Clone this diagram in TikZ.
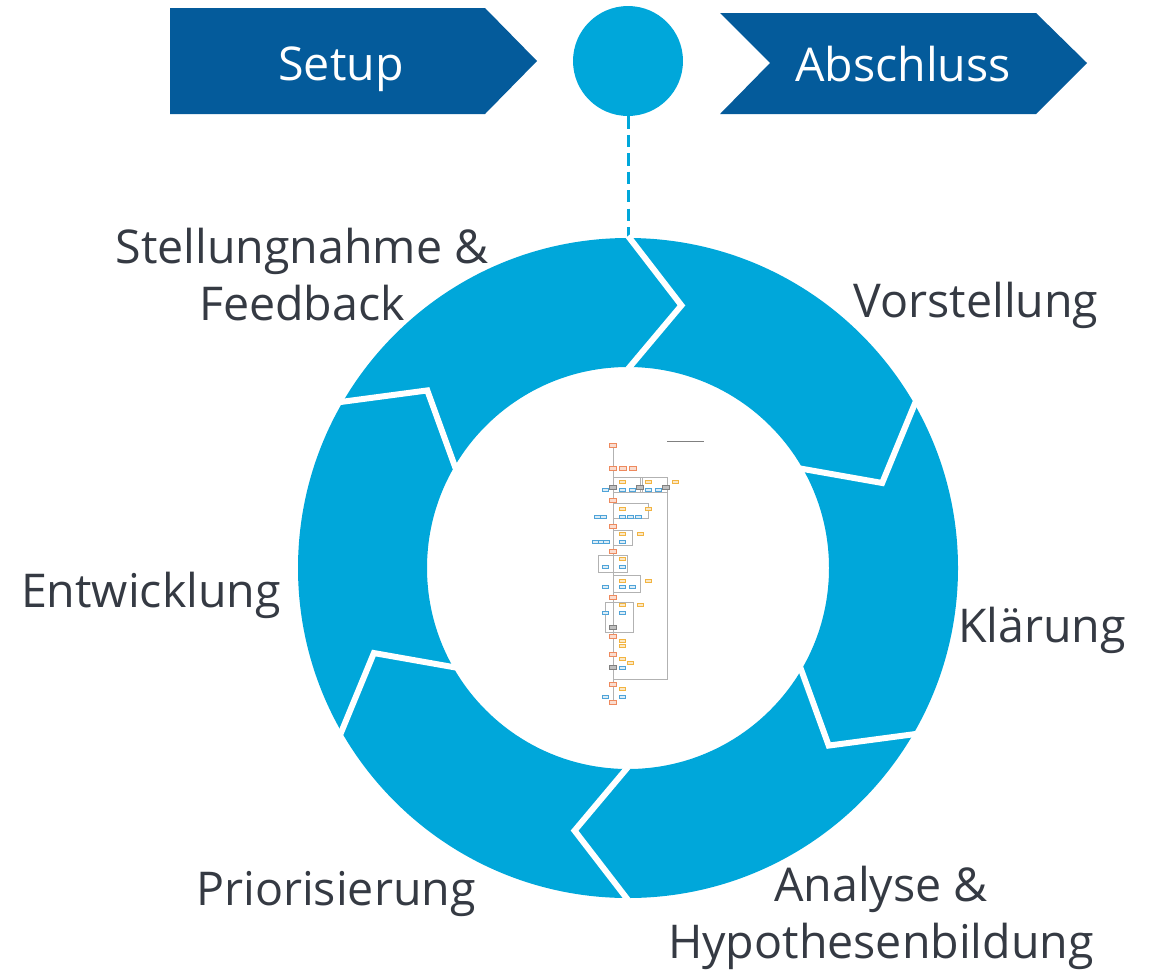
\documentclass[tikz,border=0pt]{standalone}
\usepackage{fontspec}
\setmainfont{Open Sans}
\usepackage{tikz}

\definecolor{ringblue}{HTML}{00A7DA}
\definecolor{darkblue}{HTML}{045B9B}
\definecolor{labelgrey}{HTML}{353A43}
\definecolor{thumborange}{HTML}{EE8A5E}
\definecolor{thumbblue}{HTML}{4FA3D8}
\definecolor{thumbyellow}{HTML}{F2B441}

\tikzset{
  phaselabel/.style={text=labelgrey, font=\fontsize{26.5}{32}\selectfont, align=center, inner sep=0pt},
  chevlabel/.style={text=white, font=\fontsize{26.5}{32}\selectfont, inner sep=0pt},
  gap/.style={white, line width=3.4pt},
  thumbline/.style={gray!60, line width=0.3pt},
  thumbbox/.style={line width=0.3pt}
}

\begin{document}
\begin{tikzpicture}[x=0.02cm, y=-0.02cm]
    \useasboundingbox (0,0) rectangle (1152,974);

    % top chevrons
    \fill[darkblue] (170,8) -- (485,8) -- (537,61) -- (485,114) -- (170,114) -- cycle;
    \node[chevlabel, anchor=base] (setup) at (341,80) {Setup};
    \fill[darkblue] (720,13) -- (1036,13) -- (1087,63) -- (1036,114) -- (720,114) -- (770,63) -- cycle;
    \node[chevlabel, anchor=base] (abschluss) at (903,81) {Abschluss};

    % milestone circle
    \node[circle, fill=ringblue, minimum size=2.2cm, inner sep=0pt] (start) at (628,61) {};
    \coordinate (ringtop) at (628,238);
    \draw[ringblue, line width=1.7pt, dash pattern=on 7pt off 3.5pt] (start) -- (ringtop);

    % ring
    \fill[ringblue, even odd rule] (628,568) circle[radius=330] (628,568) circle[radius=201];

    % gaps between the phases
    \foreach \a in {0,60,...,300}
      \draw[gap, shift={(628,568)}] (\a-90:332) -- (\a-78.5:268) -- (\a-90:199);

    % phase labels (base = last line)
    \node[phaselabel, anchor=base] (stellung) at (302,320) {Stellungnahme \&\\Feedback};
    \node[phaselabel, anchor=base] (vorst) at (976,317) {Vorstellung};
    \node[phaselabel, anchor=base] (klaer) at (1042,642) {Klärung};
    \node[phaselabel, anchor=base] (analyse) at (881,958) {Analyse \&\\Hypothesenbildung};
    \node[phaselabel, anchor=base] (prio) at (336,905) {Priorisierung};
    \node[phaselabel, anchor=base] (entw) at (151,607) {Entwicklung};

    % flowchart thumbnail
    \draw[gray, line width=0.5pt] (667,441) -- (704,441);
    \draw[thumbline] (613,445) -- (613,702);
    \draw[thumbline] (667,482) -- (667,679) -- (613,679);
    \foreach \xa/\ya/\xb/\yb in {613/477/642/492, 640/477/667/492, 613/503/648/518, 613/530/632/545,
                               598/555/627/572, 613/575/640/592, 605/602/633/632}
      \draw[thumbline] (\xa,\ya) rectangle (\xb,\yb);
    \foreach \y in {445,468,500,526,551,597,636,654,684,702}
      \filldraw[thumbbox, draw=thumborange, fill=thumborange!30] (609.5,\y-2) rectangle (616.5,\y+2);
    \foreach \x in {623,633}
      \filldraw[thumbbox, draw=thumborange, fill=thumborange!30] (\x-3.5,466) rectangle (\x+3.5,470);
    \foreach \x/\y in {605/490,622/490,632/490,648/490,658/490, 597/517,603/517,622/517,630/517,638/517,
                       595/542,601/542,606/542,622/542, 605/567,622/567, 605/587,622/587,632/587,
                       605/613,622/613, 622/668, 605/697,622/697}
      \filldraw[thumbbox, draw=thumbblue, fill=thumbblue!20] (\x-3,\y-1.5) rectangle (\x+3,\y+1.5);
    \foreach \x/\y in {622/482,648/482,675/482, 622/509,648/509, 622/534,640/534, 622/559,
                       622/581,648/581, 622/605,640/605, 622/641,622/646, 622/659,630/663, 622/689}
      \filldraw[thumbbox, draw=thumbyellow, fill=thumbyellow!30] (\x-3,\y-1.5) rectangle (\x+3,\y+1.5);
    \foreach \x/\y in {613/487, 640/487, 666/487, 613/627, 613/667}
      \filldraw[thumbbox, draw=gray, fill=gray!50] (\x-3.5,\y-2) rectangle (\x+3.5,\y+2);
\end{tikzpicture}
\end{document}
